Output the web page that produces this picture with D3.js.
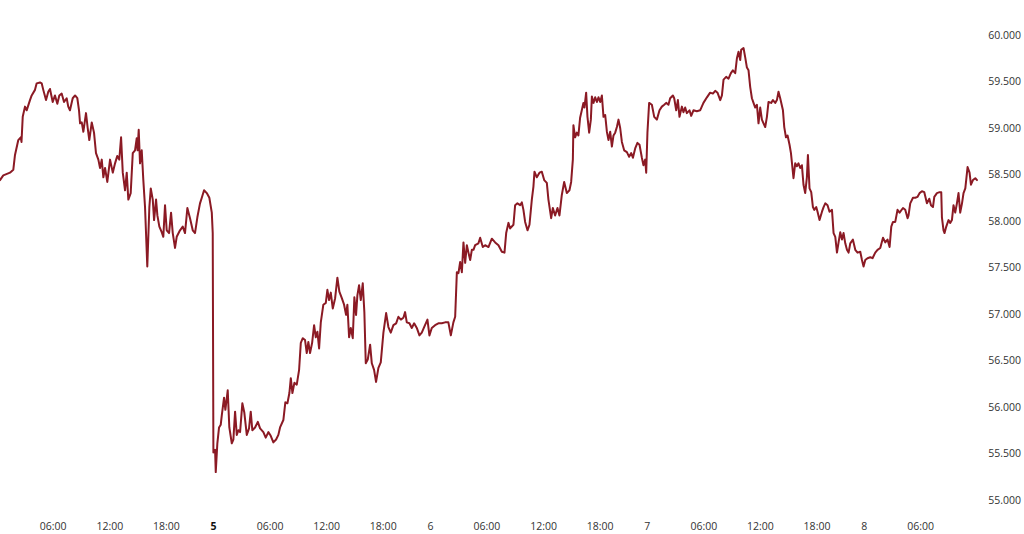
<!DOCTYPE html>
<html>
<head>
<meta charset="utf-8">
<script src="https://cdn.jsdelivr.net/npm/d3@7"></script>
<style>
  html, body { margin: 0; padding: 0; background: #ffffff; }
  svg { display: block; }
  .tick text { font-family: "Open Sans", sans-serif; fill: #333333; }
</style>
</head>
<body>
<svg id="chart" width="1024" height="534"></svg>
<script>
// ---- DATA ----
// Each day: [clock hour of the trading session, price]. Session runs 00:00–23:00 (daily break 23:00–24:00).
const dayLabels = ["4", "5", "6", "7", "8"];
const sessionLength = 23;

const day4 = [[0.41,58.44],[0.76,58.49],[1.47,58.52],[1.82,58.55],[2.00,58.71],[2.35,58.87],[2.61,58.90],[2.69,58.85],[2.82,59.12],[3.06,59.23],
[3.24,59.19],[3.59,59.30],[3.77,59.35],[4.12,59.41],[4.30,59.48],[4.65,59.49],[4.83,59.48],[5.00,59.41],[5.29,59.30],[5.53,59.39],
[5.71,59.42],[6.00,59.28],[6.24,59.35],[6.49,59.26],[6.70,59.35],[6.95,59.37],[7.20,59.28],[7.48,59.32],[7.65,59.23],[7.83,59.19],
[8.12,59.32],[8.37,59.35],[8.61,59.32],[8.79,59.19],[8.90,59.05],[9.08,59.06],[9.25,58.96],[9.53,59.16],[9.71,59.00],[9.88,58.87],
[10.14,59.06],[10.38,58.95],[10.59,58.73],[10.84,58.66],[11.02,58.57],[11.20,58.66],[11.37,58.47],[11.55,58.57],[11.79,58.42],[12.08,58.66],
[12.37,58.52],[12.61,58.62],[12.85,58.70],[13.06,58.66],[13.25,58.90],[13.43,58.52],[13.67,58.33],[13.85,58.52],[14.02,58.23],[14.27,58.30],
[14.49,58.73],[14.73,58.76],[14.91,58.89],[15.00,58.76],[15.12,58.98],[15.26,58.62],[15.44,58.76],[15.61,58.44],[15.79,58.15],[16.03,57.51],
[16.25,58.15],[16.40,58.35],[16.61,58.23],[16.75,58.01],[16.96,58.23],[17.10,58.06],[17.31,57.94],[17.56,57.88],[17.73,57.83],[17.91,58.17],
[18.09,57.90],[18.34,57.87],[18.55,58.09],[18.73,57.87],[18.97,57.71],[19.15,57.83],[19.50,57.90],[19.79,57.94],[20.03,57.87],[20.28,58.14],
[20.56,58.03],[20.85,57.90],[21.09,57.87],[21.34,58.04],[21.62,58.19],[21.81,58.25],[22.05,58.33],[22.34,58.30],[22.61,58.25],[22.87,58.09],
[22.97,57.87]];

const day5 = [[0.04,55.51],[0.22,55.54],[0.29,55.30],[0.46,55.61],[0.64,55.78],[0.82,55.81],[0.93,55.91],[1.17,56.10],[1.31,55.97],[1.56,56.18],
[1.73,55.78],[1.99,55.61],[2.16,55.65],[2.34,55.95],[2.52,55.70],[2.69,55.75],[2.87,55.73],[3.11,56.04],[3.32,55.94],[3.58,55.70],
[3.82,55.77],[4.00,55.95],[4.17,55.75],[4.46,55.78],[4.75,55.84],[4.99,55.77],[5.34,55.73],[5.59,55.67],[5.87,55.73],[6.12,55.69],
[6.40,55.62],[6.69,55.65],[6.93,55.70],[7.11,55.78],[7.46,55.86],[7.67,56.05],[7.89,56.04],[8.10,56.15],[8.25,56.31],[8.42,56.15],
[8.63,56.26],[8.88,56.24],[9.13,56.40],[9.31,56.69],[9.52,56.74],[9.76,56.72],[9.94,56.58],[10.11,56.70],[10.29,56.58],[10.51,56.69],
[10.72,56.88],[10.90,56.75],[11.07,56.81],[11.25,56.63],[11.43,56.91],[11.70,57.10],[11.96,57.12],[12.13,57.26],[12.31,57.15],[12.49,57.23],
[12.70,57.06],[12.95,57.17],[13.19,57.39],[13.40,57.24],[13.66,57.17],[13.90,57.10],[14.11,56.99],[14.25,57.10],[14.43,56.75],[14.61,56.85],
[14.82,56.74],[14.99,57.18],[15.17,56.99],[15.31,57.20],[15.49,57.31],[15.67,57.15],[15.88,57.33],[16.05,57.02],[16.20,56.47],[16.41,56.51],
[16.66,56.67],[16.84,56.47],[17.08,56.40],[17.29,56.27],[17.54,56.42],[17.79,56.48],[18.07,56.80],[18.36,57.01],[18.60,56.86],[18.85,56.80],
[19.13,56.88],[19.42,56.90],[19.66,56.97],[19.92,56.94],[20.19,56.96],[20.37,57.02],[20.55,56.91],[20.83,56.90],[21.08,56.85],[21.33,56.90],
[21.61,56.85],[21.89,56.77],[22.14,56.80],[22.39,56.86],[22.74,56.94],[22.95,56.77]];

const day6 = [[0.20,56.85],[0.55,56.88],[0.90,56.90],[1.26,56.90],[1.61,56.91],[1.96,56.91],[2.22,56.77],[2.49,56.91],[2.68,56.97],[2.86,57.45],
[3.03,57.44],[3.21,57.56],[3.39,57.45],[3.56,57.77],[3.74,57.55],[3.92,57.74],[4.09,57.66],[4.27,57.58],[4.45,57.69],[4.62,57.69],
[4.80,57.74],[5.15,57.76],[5.33,57.82],[5.61,57.72],[5.86,57.74],[6.21,57.72],[6.57,57.81],[6.92,57.77],[7.27,57.74],[7.63,57.67],
[7.91,57.66],[8.09,57.87],[8.33,57.98],[8.51,57.92],[8.86,57.96],[9.04,58.17],[9.28,58.19],[9.57,58.17],[9.75,58.20],[9.92,58.12],
[10.10,57.99],[10.35,57.90],[10.56,57.96],[10.81,58.23],[10.98,58.37],[11.09,58.53],[11.34,58.47],[11.62,58.52],[11.87,58.53],[12.12,58.44],
[12.40,58.41],[12.57,58.23],[12.86,58.03],[13.04,58.14],[13.28,58.06],[13.53,58.14],[13.74,58.06],[13.99,58.28],[14.24,58.42],[14.52,58.30],
[14.80,58.33],[14.98,58.42],[15.16,58.66],[15.22,59.03],[15.40,58.90],[15.58,58.95],[15.75,58.92],[15.93,59.11],[16.11,59.19],[16.28,59.27],
[16.39,59.22],[16.57,59.38],[16.71,59.12],[16.89,58.95],[17.07,59.09],[17.18,59.34],[17.35,59.27],[17.53,59.33],[17.71,59.28],[17.88,59.33],
[18.06,59.28],[18.24,59.35],[18.41,59.12],[18.59,59.14],[18.77,58.96],[18.94,58.87],[19.12,58.96],[19.30,58.80],[19.47,58.92],[19.65,58.95],
[19.83,59.01],[20.00,59.09],[20.18,59.00],[20.36,58.85],[20.60,58.76],[20.89,58.74],[21.13,58.69],[21.35,58.73],[21.53,58.68],[21.77,58.78],
[22.01,58.84],[22.23,58.82],[22.48,58.68],[22.65,58.60],[22.83,58.66],[22.94,58.52]];

const day7 = [[0.07,58.95],[0.25,59.27],[0.54,59.25],[0.79,59.12],[1.07,59.09],[1.35,59.19],[1.60,59.23],[1.85,59.25],[2.06,59.27],[2.30,59.25],
[2.48,59.32],[2.77,59.35],[2.91,59.32],[3.12,59.19],[3.30,59.30],[3.47,59.12],[3.72,59.23],[3.89,59.17],[4.07,59.22],[4.25,59.16],
[4.53,59.19],[4.71,59.13],[4.95,59.19],[5.31,59.18],[5.66,59.19],[6.01,59.27],[6.38,59.33],[6.72,59.38],[7.01,59.37],[7.26,59.40],
[7.50,59.38],[7.79,59.30],[7.97,59.35],[8.14,59.52],[8.42,59.55],[8.67,59.53],[8.92,59.59],[9.13,59.62],[9.38,59.59],[9.56,59.75],
[9.73,59.82],[9.91,59.73],[10.01,59.84],[10.26,59.86],[10.44,59.76],[10.62,59.65],[10.79,59.62],[10.97,59.44],[11.15,59.32],[11.32,59.27],
[11.50,59.22],[11.68,59.25],[11.85,59.05],[12.03,59.22],[12.21,59.09],[12.38,59.05],[12.56,59.01],[12.74,59.12],[12.91,59.28],[13.20,59.27],
[13.38,59.30],[13.62,59.27],[13.80,59.30],[13.97,59.39],[14.15,59.32],[14.44,59.19],[14.58,59.01],[14.76,58.90],[14.93,58.92],[15.14,58.82],
[15.29,58.73],[15.39,58.63],[15.56,58.46],[15.74,58.62],[15.92,58.59],[16.09,58.62],[16.27,58.57],[16.45,58.60],[16.62,58.39],[16.80,58.30],
[16.98,58.47],[17.09,58.71],[17.26,58.35],[17.44,58.31],[17.62,58.15],[17.76,58.12],[17.97,58.15],[18.11,58.10],[18.32,58.01],[18.58,58.10],
[18.75,58.15],[18.93,58.19],[19.17,58.17],[19.38,58.10],[19.64,58.12],[19.81,57.87],[19.99,57.83],[20.17,57.66],[20.34,57.77],[20.52,57.88],
[20.70,57.80],[20.87,57.87],[21.05,57.76],[21.23,57.69],[21.40,57.66],[21.58,57.76],[21.86,57.80],[22.11,57.69],[22.35,57.66],[22.64,57.67],
[22.82,57.58],[22.99,57.51]];

const day8 = [[0.17,57.58],[0.41,57.60],[0.70,57.61],[0.94,57.60],[1.23,57.66],[1.47,57.69],[1.76,57.71],[2.05,57.82],[2.29,57.77],[2.53,57.80],
[2.75,57.72],[2.93,57.94],[3.11,57.99],[3.35,57.99],[3.59,58.12],[3.81,58.09],[4.17,58.14],[4.41,58.12],[4.66,58.03],[4.76,58.06],
[4.94,58.19],[5.23,58.25],[5.47,58.25],[5.72,58.26],[5.93,58.30],[6.18,58.32],[6.43,58.31],[6.71,58.19],[6.96,58.24],[7.14,58.17],
[7.35,58.15],[7.49,58.26],[7.77,58.30],[8.05,58.31],[8.23,58.31],[8.30,58.04],[8.47,57.90],[8.58,57.87],[8.76,57.94],[9.00,58.01],
[9.18,57.98],[9.36,58.01],[9.53,58.17],[9.71,58.09],[9.89,58.19],[10.06,58.30],[10.24,58.09],[10.43,58.19],[10.59,58.30],[10.78,58.35],
[11.02,58.58],[11.23,58.52],[11.38,58.39],[11.59,58.44],[11.84,58.46],[12.02,58.44]];

const sessions = [day4, day5, day6, day7, day8];
const tickHours = [0, 6, 12, 18];
const priceTicks = [55, 55.5, 56, 56.5, 57, 57.5, 58, 58.5, 59, 59.5, 60];

// ---- CHART ----
const svg = d3.select("#chart");
const plotRight = 977;

const data = sessions.flatMap((pts, i) => pts.map(([h, p]) => ({ t: i * sessionLength + h, p })));

const x = d3.scaleLinear()
  .domain(d3.extent(data, d => d.t))
  .range([0, plotRight]);

const y = d3.scaleLinear()
  .domain([55, 60])
  .range([500, 35]);

// x ticks (no label at the very edges of the plot)
const xTicks = [];
sessions.forEach((_, i) => {
  tickHours.forEach(h => {
    const t = i * sessionLength + h;
    if (t > x.domain()[0] + 1 && t < x.domain()[1] - 1) {
      xTicks.push({ t, label: h === 0 ? dayLabels[i] : d3.format("02")(h) + ":00" });
    }
  });
});
const tickInfo = new Map(xTicks.map(d => [d.t, d]));

const xAxis = d3.axisBottom(x)
  .tickValues(xTicks.map(d => d.t))
  .tickFormat(t => tickInfo.get(t).label)
  .tickSize(0)
  .tickPadding(8);

const gx = svg.append("g").attr("transform", "translate(0,515)").call(xAxis);
gx.select(".domain").remove();
gx.selectAll(".tick text")
  .style("font-size", "10.5px")
  .style("font-weight", t => tickInfo.get(t).label === "5" ? "bold" : "normal")
  .style("fill", t => tickInfo.get(t).label === "5" ? "#111111" : "#333333");

// y ticks (right side, right-aligned)
const yAxis = d3.axisRight(y)
  .tickValues(priceTicks)
  .tickFormat(d3.format(".3f"))
  .tickSize(0)
  .tickPadding(0);

const gy = svg.append("g").attr("transform", "translate(1021,0)").call(yAxis);
gy.select(".domain").remove();
gy.selectAll(".tick text")
  .attr("x", 0)
  .attr("text-anchor", "end")
  .style("font-size", "10.5px");

// line
const line = d3.line()
  .x(d => x(d.t))
  .y(d => y(d.p))
  .curve(d3.curveLinear);

svg.append("path")
  .datum(data)
  .attr("fill", "none")
  .attr("stroke", "#8b1a24")
  .attr("stroke-width", 2)
  .attr("stroke-linejoin", "round")
  .attr("stroke-linecap", "round")
  .attr("d", line);
</script>
</body>
</html>
